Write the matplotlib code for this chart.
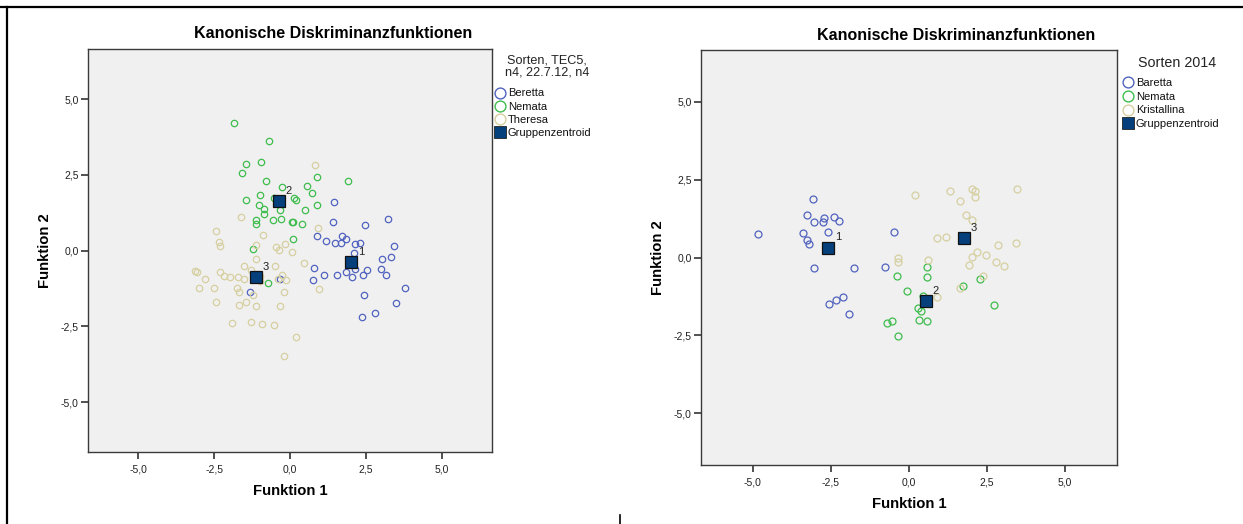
import matplotlib
matplotlib.use("Agg")
import matplotlib.pyplot as plt
from matplotlib.lines import Line2D
from matplotlib.ticker import FuncFormatter

plt.rcParams['font.family'] = ['Liberation Sans', 'DejaVu Sans']

# ---------------- data: left chart (Sorten, TEC5) ----------------
left_groups = ["Beretta", "Nemata", "Theresa"]
left_beretta_x = [1.44, 1.41, 2.47, 3.23, 0.89, 1.19, 1.48, 1.68, 1.71, 1.86, 2.15, 2.30, 2.11, 3.43,
                  3.03, 3.32, 0.80, 1.13, 0.75, 1.56, 1.83, 2.05, 2.15, 2.40, 2.53, 3.01, 3.15, 3.78,
                  3.48, 2.45, 2.81, 2.38, -1.32, -0.32]
left_beretta_y = [1.61, 0.94, 0.86, 1.05, 0.47, 0.33, 0.26, 0.26, 0.50, 0.37, 0.23, 0.24, -0.09, 0.14,
                  -0.27, -0.21, -0.58, -0.81, -0.98, -0.79, -0.71, -0.88, -0.60, -0.79, -0.63, -0.60,
                  -0.79, -1.23, -1.72, -1.47, -2.06, -2.18, -1.36, -0.92]
left_nemata_x = [-1.86, -0.70, -1.46, -0.95, -1.58, -0.80, 1.91, 0.88, -0.25, 0.55, 0.74, -0.98, -1.44,
                 0.14, 0.21, -1.01, -0.85, -0.85, 0.88, 0.48, -0.32, -0.54, -1.13, -1.11, -0.55, -0.30,
                 0.05, 0.11, 0.38, 0.11, -1.22, -0.71]
left_nemata_y = [4.22, 3.62, 2.87, 2.92, 2.55, 2.30, 2.29, 2.42, 2.11, 2.14, 1.90, 1.84, 1.67, 1.73, 1.68,
                 1.51, 1.37, 1.20, 1.51, 1.33, 1.35, 1.73, 1.02, 0.88, 1.01, 1.06, 0.96, 0.96, 0.88,
                 0.39, 0.07, -1.06]
left_theresa_x = [0.82, -1.62, 0.91, -2.43, -2.35, -2.29, -0.90, -1.13, -0.45, -0.15, -0.35, 0.08, -1.12,
                  0.45, -1.52, -0.51, -1.27, -3.14, -3.05, -2.29, -2.18, -1.96, -1.72, -2.81, -1.50,
                  -0.98, -0.25, -0.14, -0.39, -2.99, -2.50, -1.74, -1.69, -1.22, -0.20, 0.97, -2.42,
                  -1.46, -1.67, -1.12, -0.33, -1.91, -1.28, -0.92, -0.53, 0.20, -0.21, -0.98]
left_theresa_y = [2.83, 1.12, 0.75, 0.65, 0.29, 0.15, 0.52, 0.20, 0.13, 0.22, 0.02, -0.05, -0.27, -0.41,
                  -0.52, -0.52, -0.63, -0.68, -0.70, -0.69, -0.83, -0.87, -0.87, -0.93, -0.95, -0.84,
                  -0.79, -0.98, -0.95, -1.23, -1.22, -1.23, -1.36, -1.48, -1.36, -1.28, -1.68, -1.68,
                  -1.78, -1.83, -1.82, -2.38, -2.36, -2.41, -2.47, -2.85, -3.49, -1.01]
left_centroid_x = [2.02, -0.37, -1.12]
left_centroid_y = [-0.37, 1.64, -0.86]
left_centroid_labels = ["1", "2", "3"]

# ---------------- data: right chart (Sorten 2014) ----------------
right_groups = ["Baretta", "Nemata", "Kristallina"]
right_baretta_x = [-4.84, -3.08, -3.27, -3.03, -2.76, -2.72, -2.39, -2.23, -3.38, -3.26, -3.21, -2.60,
                   -0.48, -3.03, -1.75, -0.76, -2.56, -2.34, -2.10, -1.92]
right_baretta_y = [0.76, 1.88, 1.35, 1.14, 1.13, 1.26, 1.29, 1.18, 0.78, 0.57, 0.43, 0.82, 0.82, -0.33,
                   -0.33, -0.32, -1.50, -1.38, -1.27, -1.82]
right_nemata_x = [0.58, 0.57, -0.38, -0.06, 1.74, 2.28, 2.72, 0.45, 0.28, 0.40, 0.33, 0.59, -0.70, -0.53,
                  -0.34]
right_nemata_y = [-0.32, -0.64, -0.60, -1.08, -0.93, -0.70, -1.52, -1.25, -1.63, -1.71, -2.02, -2.04,
                  -2.10, -2.04, -2.51]
right_kristallina_x = [0.20, 1.31, 1.62, 2.02, 2.12, 2.11, 3.46, 1.82, 2.03, 0.89, 1.18, 2.86, 3.43, 2.18,
                       2.03, 2.45, 2.78, 3.05, 1.91, -0.35, -0.35, 0.60, 2.38, 1.62, 0.89]
right_kristallina_y = [2.02, 2.14, 1.81, 2.21, 2.15, 1.93, 2.21, 1.36, 1.20, 0.62, 0.67, 0.40, 0.45, 0.19,
                       0.03, 0.07, -0.13, -0.27, -0.24, -0.02, -0.14, -0.08, -0.59, -0.97, -1.26]
right_centroid_x = [-2.59, 0.54, 1.77]
right_centroid_y = [0.32, -1.41, 0.63]
right_centroid_labels = ["1", "2", "3"]

ticks = [-5.0, -2.5, 0.0, 2.5, 5.0]
title_text = "Kanonische Diskriminanzfunktionen"
xlabel_text = "Funktion 1"
ylabel_text = "Funktion 2"
left_legend_title = "Sorten, TEC5,\nn4, 22.7.12, n4"
right_legend_title = "Sorten 2014"
centroid_name = "Gruppenzentroid"

# ---------------- styling ----------------
COL_BLUE = "#5163bf"
COL_GREEN = "#3fbd4e"
COL_TAN = "#d6cf9f"
COL_CENT = "#053f7c"
BG = "#f0f0f0"
W, H = 1243, 524

fig = plt.figure(figsize=(W / 100, H / 100), dpi=100)
fig.patch.set_facecolor("white")

comma = FuncFormatter(lambda v, p: ("%.1f" % v).replace(".", ","))


def setup_axes(rect, lim):
    ax = fig.add_axes(rect)
    ax.set_facecolor(BG)
    ax.set_xlim(-lim, lim)
    ax.set_ylim(-lim, lim)
    ax.set_xticks(ticks)
    ax.set_yticks(ticks)
    ax.xaxis.set_major_formatter(comma)
    ax.yaxis.set_major_formatter(comma)
    ax.tick_params(direction="out", length=5, width=1.2, color="#333333",
                   labelsize=7.5, labelcolor="#222222")
    ax.tick_params(axis="x", pad=3.5)
    ax.tick_params(axis="y", pad=1.5)
    for s in ax.spines.values():
        s.set_color("#3a3a3a")
        s.set_linewidth(1.0)
    ax.set_xlabel(xlabel_text, fontsize=10.7, fontweight="bold", labelpad=7)
    ax.set_ylabel(ylabel_text, fontsize=10.7, fontweight="bold", labelpad=6)
    return ax


def draw(ax, series, colors, cx, cy, clabels, ms, sq):
    for (xs, ys), c in zip(series, colors):
        ax.plot(xs, ys, linestyle="none", marker="o", markersize=ms, markerfacecolor="none",
                markeredgecolor=c, markeredgewidth=0.9, zorder=2)
    ax.plot(cx, cy, linestyle="none", marker="s", markersize=sq, markerfacecolor=COL_CENT,
            markeredgecolor="#111111", markeredgewidth=0.9, zorder=3)
    for x, y, t in zip(cx, cy, clabels):
        ax.annotate(t, (x, y), xytext=(7, 7.3), textcoords="offset points", ha="center",
                    va="center", fontsize=8, color="#222222", zorder=4)


def legend_handles(names):
    hs = []
    for n, c in zip(names, [COL_BLUE, COL_GREEN, COL_TAN]):
        hs.append(Line2D([], [], linestyle="none", marker="o", markersize=7.8, markerfacecolor="none",
                         markeredgecolor=c, markeredgewidth=1.0, label=n))
    hs.append(Line2D([], [], linestyle="none", marker="s", markersize=8, markerfacecolor=COL_CENT,
                     markeredgecolor="#222222", markeredgewidth=0.6, label=centroid_name))
    return hs


# left chart
axL = setup_axes([87.7 / W, 1 - 452.3 / H, (492.3 - 87.7) / W, (452.3 - 49) / H], 6.66)
draw(axL, [(left_beretta_x, left_beretta_y), (left_nemata_x, left_nemata_y),
           (left_theresa_x, left_theresa_y)],
     [COL_BLUE, COL_GREEN, COL_TAN], left_centroid_x, left_centroid_y, left_centroid_labels, 4.6, 8)

# right chart
axR = setup_axes([700.7 / W, 1 - 465.3 / H, (1117.3 - 700.7) / W, (465.3 - 49.7) / H], 6.67)
draw(axR, [(right_baretta_x, right_baretta_y), (right_nemata_x, right_nemata_y),
           (right_kristallina_x, right_kristallina_y)],
     [COL_BLUE, COL_GREEN, COL_TAN], right_centroid_x, right_centroid_y, right_centroid_labels, 5.0, 8.6)

# titles
fig.text(333 / W, 1 - 34 / H, title_text, ha="center", va="center", fontsize=11.5, fontweight="bold")
fig.text(956 / W, 1 - 36 / H, title_text, ha="center", va="center", fontsize=11.5, fontweight="bold")

# legend titles
fig.text(547 / W, 1 - 66.5 / H, left_legend_title, ha="center", va="center", multialignment="center",
         fontsize=9.1, linespacing=0.92, color="#222222")
fig.text(1177 / W, 1 - 62.7 / H, right_legend_title, ha="center", va="center",
         fontsize=10.3, color="#222222")

# legends (entries)
for names, anchor, spacing in [
        (left_groups, (496 / W, 1 - 113.1 / H), 0.28),
        (right_groups, (1124 / W, 1 - 103.6 / H), 0.34)]:
    lg = fig.legend(handles=legend_handles(names), loc="center left", bbox_to_anchor=anchor,
                    frameon=False, fontsize=8,
                    handlelength=0.8, handletextpad=0.25, borderpad=0, labelspacing=spacing,
                    borderaxespad=0)
    for t in lg.get_texts():
        t.set_color("#111111")

# figure frame lines
fig.add_artist(Line2D([0, 1], [1 - 7 / H, 1 - 7 / H], transform=fig.transFigure, color="black", lw=1.6))
fig.add_artist(Line2D([7 / W, 7 / W], [0, 1 - 7 / H], transform=fig.transFigure, color="black", lw=1.6))
fig.add_artist(Line2D([620 / W, 620 / W], [0, 9 / H], transform=fig.transFigure, color="black", lw=1.2))

fig.savefig("out.png", dpi=100, facecolor="white")
